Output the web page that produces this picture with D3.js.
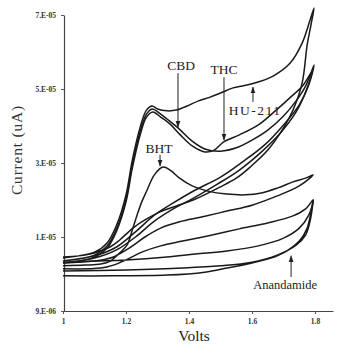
<!DOCTYPE html>
<html><head><meta charset="utf-8">
<script src="https://cdn.jsdelivr.net/npm/d3@7"></script>
<style>body{margin:0;background:#fff}svg{display:block}</style>
</head><body>
<svg id="c" width="338" height="348"></svg>
<script>
// Voltage (V) and current (units of 1e-5 A)
const xTicks = [1, 1.2, 1.4, 1.6, 1.8];
const xTickLabels = ["1", "1.2", "1.4", "1.6", "1.8"];
const yTicks = [-1, 1, 3, 5, 7];
const yTickLabels = ["9.E-06", "1.E-05", "3.E-05", "5.E-05", "7.E-05"];

const hu211 = [[1.00,0.43],[1.05,0.49],[1.10,0.59],[1.14,0.84],[1.17,1.32],[1.20,2.14],[1.22,3.08],[1.245,3.97],[1.265,4.43],[1.283,4.54],[1.30,4.46],[1.33,4.41],[1.36,4.43],[1.394,4.54],[1.43,4.68],[1.467,4.78],[1.50,4.89],[1.54,5.03],[1.60,5.14],[1.667,5.35],[1.721,5.70],[1.759,6.24],[1.784,6.86],[1.797,7.19],
  [1.787,6.73],[1.775,6.19],[1.759,5.16],[1.73,4.43],[1.70,3.95],[1.65,3.35],[1.594,2.89],[1.55,2.59],[1.498,2.35],[1.413,2.00],[1.36,1.84],[1.308,1.68],[1.26,1.46],[1.222,1.24],[1.18,0.92],[1.149,0.73],[1.10,0.57],[1.05,0.49],[1.00,0.46]];
const cbd = [[1.00,0.35],[1.05,0.41],[1.10,0.51],[1.14,0.76],[1.17,1.22],[1.20,2.03],[1.22,2.95],[1.245,3.86],[1.265,4.32],[1.283,4.46],[1.31,4.32],[1.33,4.19],[1.365,3.95],[1.41,3.59],[1.45,3.38],[1.50,3.32],[1.55,3.41],[1.60,3.62],[1.65,3.89],[1.70,4.27],[1.74,4.68],[1.77,5.08],[1.797,5.65],
  [1.78,5.11],[1.75,4.57],[1.70,4.03],[1.64,3.49],[1.57,3.03],[1.50,2.62],[1.42,2.27],[1.35,1.92],[1.29,1.59],[1.23,1.14],[1.17,0.73],[1.10,0.49],[1.00,0.35]];
const thc = [[1.00,0.30],[1.05,0.35],[1.10,0.46],[1.14,0.70],[1.17,1.16],[1.20,1.95],[1.22,2.86],[1.245,3.76],[1.265,4.24],[1.285,4.38],[1.31,4.24],[1.34,4.05],[1.37,3.78],[1.41,3.46],[1.45,3.30],[1.48,3.35],[1.51,3.57],[1.56,3.76],[1.62,4.03],[1.67,4.38],[1.72,4.76],[1.76,5.08],[1.79,5.46],
  [1.77,4.92],[1.74,4.38],[1.69,3.81],[1.63,3.30],[1.56,2.81],[1.49,2.43],[1.42,2.08],[1.35,1.76],[1.29,1.43],[1.23,1.00],[1.17,0.65],[1.10,0.43],[1.00,0.30]];
const bht = [[1.00,0.22],[1.07,0.24],[1.12,0.27],[1.15,0.35],[1.18,0.57],[1.203,0.78],[1.22,1.19],[1.235,1.59],[1.25,1.95],[1.267,2.27],[1.29,2.68],[1.317,2.89],[1.34,2.81],[1.37,2.59],[1.41,2.38],[1.46,2.24],[1.52,2.16],[1.58,2.14],[1.63,2.19],[1.68,2.32],[1.73,2.49],[1.77,2.59],[1.794,2.68],
  [1.75,2.38],[1.68,2.11],[1.60,1.86],[1.52,1.70],[1.44,1.54],[1.37,1.41],[1.31,1.24],[1.26,1.00],[1.21,0.70],[1.16,0.46],[1.10,0.35],[1.00,0.30]];
const blank = [[1.00,0.14],[1.12,0.16],[1.16,0.24],[1.20,0.38],[1.25,0.59],[1.31,0.76],[1.38,0.89],[1.47,1.05],[1.56,1.22],[1.65,1.38],[1.73,1.57],[1.77,1.76],[1.794,2.00],
  [1.78,1.59],[1.75,1.24],[1.70,0.97],[1.62,0.76],[1.52,0.62],[1.42,0.54],[1.33,0.46],[1.20,0.38],[1.10,0.35],[1.00,0.32]];
const anandamide = [[1.00,-0.05],[1.15,-0.05],[1.33,-0.03],[1.45,0.05],[1.52,0.16],[1.60,0.30],[1.66,0.43],[1.71,0.62],[1.75,0.89],[1.775,1.24],[1.794,2.00],
  [1.785,1.46],[1.77,1.05],[1.74,0.78],[1.68,0.51],[1.60,0.32],[1.50,0.22],[1.38,0.16],[1.20,0.11],[1.00,0.08]];
const seriesList = [hu211, cbd, thc, bht, blank, anandamide];

// annotations: label, text anchor (V, I), arrow from (V, I) to (V, I)
const labels = ["CBD", "THC", "HU-211", "BHT", "Anandamide"];
const labelPos = [[1.375,5.51],[1.511,5.41],[1.61,4.30],[1.305,3.27],[1.705,-0.41]];
const arrowFrom = [[1.365,5.43],[1.511,5.32],[1.603,4.65],[1.308,3.22],[1.724,-0.08]];
const arrowTo = [[1.365,3.97],[1.511,3.62],[1.603,5.05],[1.308,2.92],[1.724,0.49]];

const svg = d3.select("#c");
const x = d3.scaleLinear().domain([1, 1.857]).range([63, 333]);
const y = d3.scaleLinear().domain([-1, 7]).range([311, 15]);

// axes
const gx = svg.append("g").attr("transform", "translate(0,311)")
  .call(d3.axisBottom(x).tickValues(xTicks).tickSize(3).tickSizeOuter(0).tickFormat((d,i)=>xTickLabels[i]));
const gy = svg.append("g").attr("transform", "translate(64,0)")
  .call(d3.axisLeft(y).tickValues(yTicks).tickSize(3).tickSizeOuter(0).tickFormat((d,i)=>yTickLabels[i]));
[gx, gy].forEach(g => {
  g.select(".domain").attr("stroke", "#444").attr("stroke-width", 1.2);
  g.selectAll(".tick line").attr("stroke", "#555");
  g.selectAll("text").attr("font-family", "Liberation Serif, serif").attr("font-size", 7.5)
   .attr("font-weight", "bold").attr("fill", "#333");
});
gx.selectAll("text").attr("dy", "0.9em");
gy.selectAll("text").attr("dx", "-2");

// curves
const line = d3.line().x(d => x(d[0])).y(d => y(d[1])).curve(d3.curveCatmullRom.alpha(0.5));
svg.append("g").selectAll("path").data(seriesList).join("path")
  .attr("d", line).attr("fill", "none").attr("stroke", "#1a1a1a").attr("stroke-width", 1.5)
  .attr("stroke-linejoin", "round");

// arrows
const defs = svg.append("defs");
defs.append("marker").attr("id", "ah").attr("viewBox", "0 0 10 10").attr("refX", 9).attr("refY", 5)
  .attr("markerWidth", 7).attr("markerHeight", 7).attr("orient", "auto")
  .append("path").attr("d", "M0,1.5L10,5L0,8.5Z").attr("fill", "#222");
svg.append("g").selectAll("line").data(labels).join("line")
  .attr("x1", (d,i) => x(arrowFrom[i][0])).attr("y1", (d,i) => y(arrowFrom[i][1]))
  .attr("x2", (d,i) => x(arrowTo[i][0])).attr("y2", (d,i) => y(arrowTo[i][1]))
  .attr("stroke", "#222").attr("stroke-width", 1).attr("marker-end", "url(#ah)");

svg.append("g").selectAll("text").data(labels).join("text")
  .attr("x", (d,i) => x(labelPos[i][0])).attr("y", (d,i) => y(labelPos[i][1]))
  .attr("text-anchor", "middle").attr("font-family", "Liberation Serif, serif")
  .attr("font-size", (d) => d === "Anandamide" ? 12.5 : 13.5)
  .attr("letter-spacing", d => d === "HU-211" ? 1.5 : 0)
  .attr("fill", "#222").text(d => d);

// axis titles
svg.append("text").attr("x", 194).attr("y", 341).attr("text-anchor", "middle")
  .attr("font-family", "Liberation Serif, serif").attr("font-size", 15.5).attr("fill", "#222").text("Volts");
svg.append("text").attr("transform", "translate(22,150) rotate(-90)").attr("text-anchor", "middle")
  .attr("font-family", "Liberation Serif, serif").attr("font-size", 15.5).attr("letter-spacing", 0.8)
  .attr("fill", "#333").text("Current (uA)");
</script>
</body></html>
